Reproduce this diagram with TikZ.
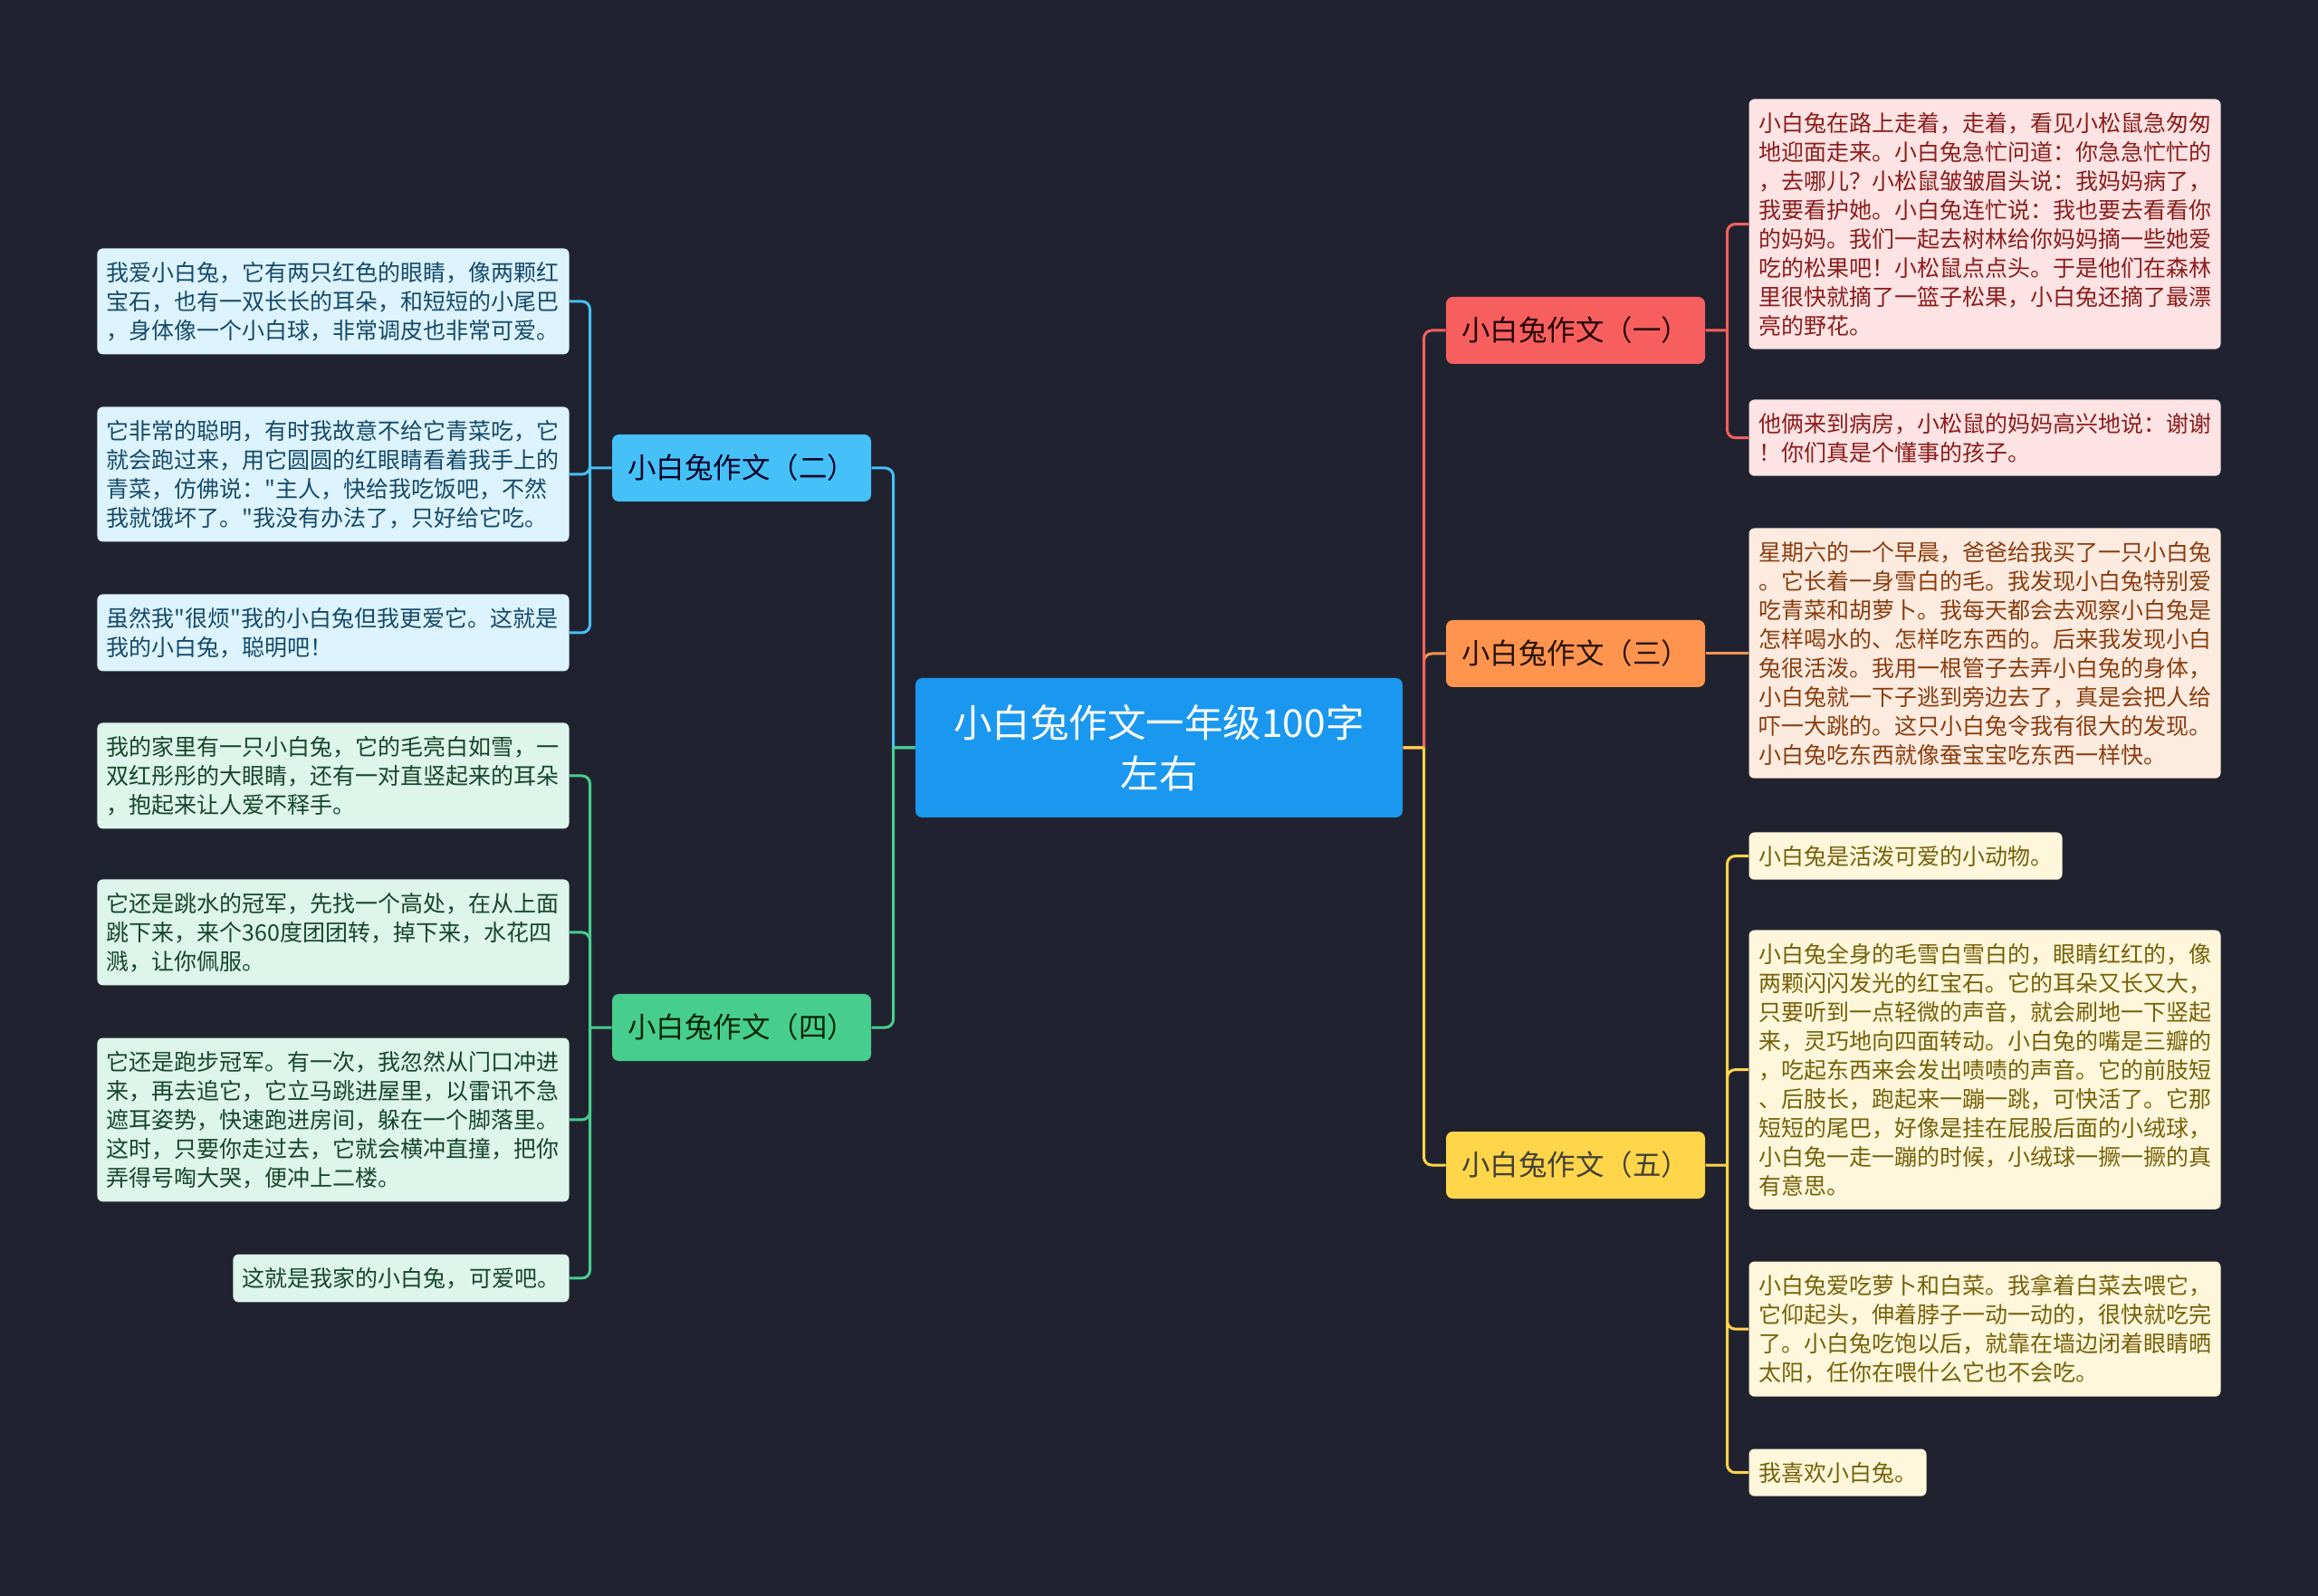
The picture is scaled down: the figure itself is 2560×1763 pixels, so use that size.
\documentclass[tikz,border=0pt]{standalone}
\usepackage{fontspec}
\setmainfont{Noto Sans CJK SC}[Ligatures=TeXOff]
\usepackage{tikz}
\definecolor{bgdark}{HTML}{20232F}
\definecolor{rootblue}{HTML}{1A98F0}
\definecolor{redfill}{HTML}{F75F5F}
\definecolor{orangefill}{HTML}{FF944E}
\definecolor{yellowfill}{HTML}{FFD54A}
\definecolor{bluefill}{HTML}{45C1F8}
\definecolor{greenfill}{HTML}{47CE8E}
\definecolor{redleaf}{HTML}{FDE3E3}
\definecolor{orangeleaf}{HTML}{FDEBE0}
\definecolor{yellowleaf}{HTML}{FFF7DB}
\definecolor{blueleaf}{HTML}{DDF3FD}
\definecolor{greenleaf}{HTML}{DDF5EA}
\definecolor{redtext}{HTML}{8B1E1E}
\definecolor{orangetext}{HTML}{8A3E10}
\definecolor{yellowtext}{HTML}{76610A}
\definecolor{bluetext}{HTML}{164A6A}
\definecolor{greentext}{HTML}{17462D}
\tikzset{
    rootbox/.style={
        rectangle, rounded corners=3pt, fill=rootblue, text=white,
        minimum width=215.2pt, minimum height=61.6pt, align=center,
        font=\fontsize{17pt}{22.4pt}\selectfont
    },
    branchbox/.style={
        rectangle, rounded corners=3pt, fill=#1,
        minimum width=114.4pt, minimum height=29.6pt,
        font=\fontsize{12.6pt}{14pt}\selectfont
    },
    % leaf text boxes
    leafbox/.style={
        rectangle, rounded corners=2.4pt, fill=#1,
        inner xsep=4.2pt, inner ysep=5.8pt, align=left,
        font=\fontsize{10pt}{12.8pt}\selectfont
    },
    widebox/.style={text width=200pt},
    link/.style={line width=1.2pt, draw=#1}
}
\begin{document}
\begin{tikzpicture}[x=0.4pt, y=-0.4pt]
	\fill[bgdark] (0,0) rectangle (2560,1763);
	\useasboundingbox (0,0) rectangle (2560,1763);

	\node[rootbox] (root) at (1280,826) {小白兔作文一年级100字\\左右};

	\node[branchbox=redfill, text=black!85!red] (b1) at (1740,365) {小白兔作文（一）};
	\node[branchbox=orangefill, text=black!85!orange] (b3) at (1740,722) {小白兔作文（三）};
	\node[branchbox=yellowfill, text=black!85!yellow] (b5) at (1740,1287) {小白兔作文（五）};
	\node[branchbox=bluefill, text=black!85!blue] (b2) at (819,517) {小白兔作文（二）};
	\node[branchbox=greenfill, text=black!85!green] (b4) at (819,1135) {小白兔作文（四）};

	\node[leafbox=redleaf, widebox, text=redtext, anchor=north west] (r1a) at (1931,109) {小白兔在路上走着，走着，看见小松鼠急匆匆\\地迎面走来。小白兔急忙问道：你急急忙忙的\\，去哪儿？小松鼠皱皱眉头说：我妈妈病了，\\我要看护她。小白兔连忙说：我也要去看看你\\的妈妈。我们一起去树林给你妈妈摘一些她爱\\吃的松果吧！小松鼠点点头。于是他们在森林\\里很快就摘了一篮子松果，小白兔还摘了最漂\\亮的野花。};
	\node[leafbox=redleaf, widebox, text=redtext, anchor=north west] (r1b) at (1931,441) {他俩来到病房，小松鼠的妈妈高兴地说：谢谢\\！你们真是个懂事的孩子。};

	\node[leafbox=orangeleaf, widebox, text=orangetext, anchor=north west] (r3a) at (1931,583) {星期六的一个早晨，爸爸给我买了一只小白兔\\。它长着一身雪白的毛。我发现小白兔特别爱\\吃青菜和胡萝卜。我每天都会去观察小白兔是\\怎样喝水的、怎样吃东西的。后来我发现小白\\兔很活泼。我用一根管子去弄小白兔的身体，\\小白兔就一下子逃到旁边去了，真是会把人给\\吓一大跳的。这只小白兔令我有很大的发现。\\小白兔吃东西就像蚕宝宝吃东西一样快。};

	\node[leafbox=yellowleaf, text=yellowtext, anchor=north west] (r5a) at (1931,919) {小白兔是活泼可爱的小动物。};
	\node[leafbox=yellowleaf, widebox, text=yellowtext, anchor=north west] (r5b) at (1931,1027) {小白兔全身的毛雪白雪白的，眼睛红红的，像\\两颗闪闪发光的红宝石。它的耳朵又长又大，\\只要听到一点轻微的声音，就会刷地一下竖起\\来，灵巧地向四面转动。小白兔的嘴是三瓣的\\，吃起东西来会发出啧啧的声音。它的前肢短\\、后肢长，跑起来一蹦一跳，可快活了。它那\\短短的尾巴，好像是挂在屁股后面的小绒球，\\小白兔一走一蹦的时候，小绒球一撅一撅的真\\有意思。};
	\node[leafbox=yellowleaf, widebox, text=yellowtext, anchor=north west] (r5c) at (1931,1393) {小白兔爱吃萝卜和白菜。我拿着白菜去喂它，\\它仰起头，伸着脖子一动一动的，很快就吃完\\了。小白兔吃饱以后，就靠在墙边闭着眼睛晒\\太阳，任你在喂什么它也不会吃。};
	\node[leafbox=yellowleaf, text=yellowtext, anchor=north west] (r5d) at (1931,1600) {我喜欢小白兔。};

	\node[leafbox=blueleaf, widebox, text=bluetext, anchor=north east] (l2a) at (629,274) {我爱小白兔，它有两只红色的眼睛，像两颗红\\宝石，也有一双长长的耳朵，和短短的小尾巴\\，身体像一个小白球，非常调皮也非常可爱。};
	\node[leafbox=blueleaf, widebox, text=bluetext, anchor=north east] (l2b) at (629,449) {它非常的聪明，有时我故意不给它青菜吃，它\\就会跑过来，用它圆圆的红眼睛看着我手上的\\青菜，仿佛说："主人，快给我吃饭吧，不然\\我就饿坏了。"我没有办法了，只好给它吃。};
	\node[leafbox=blueleaf, widebox, text=bluetext, anchor=north east] (l2c) at (629,656) {虽然我"很烦"我的小白兔但我更爱它。这就是\\我的小白兔，聪明吧！};

	\node[leafbox=greenleaf, widebox, text=greentext, anchor=north east] (l4a) at (629,798) {我的家里有一只小白兔，它的毛亮白如雪，一\\双红彤彤的大眼睛，还有一对直竖起来的耳朵\\，抱起来让人爱不释手。};
	\node[leafbox=greenleaf, widebox, text=greentext, anchor=north east] (l4b) at (629,971) {它还是跳水的冠军，先找一个高处，在从上面\\跳下来，来个360度团团转，掉下来，水花四\\溅，让你佩服。};
	\node[leafbox=greenleaf, widebox, text=greentext, anchor=north east] (l4c) at (629,1146) {它还是跑步冠军。有一次，我忽然从门口冲进\\来，再去追它，它立马跳进屋里，以雷讯不急\\遮耳姿势，快速跑进房间，躲在一个脚落里。\\这时，只要你走过去，它就会横冲直撞，把你\\弄得号啕大哭，便冲上二楼。};
	\node[leafbox=greenleaf, text=greentext, anchor=north east] (l4d) at (629,1385) {这就是我家的小白兔，可爱吧。};

	% root to branches
	\coordinate (rootR) at ([xshift=9.2pt]root.east);
	\coordinate (rootL) at ([xshift=-9.6pt]root.west);
	\draw[link=orangefill] (root.east) -- (rootR) [rounded corners=3.5pt] (rootR) |- (b3.west);
	\draw[link=redfill] (root.east) -- (rootR) [rounded corners=3.5pt] (rootR) |- (b1.west);
	\draw[link=yellowfill] (root.east) -- (rootR) [rounded corners=3.5pt] (rootR) |- (b5.west);
	\draw[link=bluefill] (root.west) -- (rootL) [rounded corners=3.5pt] (rootL) |- (b2.east);
	\draw[link=greenfill] (root.west) -- (rootL) [rounded corners=3.5pt] (rootL) |- (b4.east);

	% branches to leaves
	\coordinate (j1) at ([xshift=9.6pt]b1.east);
	\draw[link=redfill] (b1.east) -- (j1) [rounded corners=3.5pt] (j1) |- (r1a.west);
	\draw[link=redfill, rounded corners=3.5pt] (j1) |- (r1b.west);

	\coordinate (j3) at ([xshift=9.6pt]b3.east);
	\draw[link=orangefill] (b3.east) -- (j3) |- (r3a.west);

	\coordinate (j5) at ([xshift=9.6pt]b5.east);
	\draw[link=yellowfill] (b5.east) -- (j5) [rounded corners=3.5pt] (j5) |- (r5a.west);
	\draw[link=yellowfill, rounded corners=3.5pt] (j5) |- (r5b.west);
	\draw[link=yellowfill, rounded corners=3.5pt] (j5) |- (r5c.west);
	\draw[link=yellowfill, rounded corners=3.5pt] (j5) |- (r5d.west);

	\coordinate (j2) at ([xshift=-9.6pt]b2.west);
	\draw[link=bluefill] (b2.west) -- (j2) [rounded corners=3.5pt] (j2) |- (l2a.east);
	\draw[link=bluefill, rounded corners=3.5pt] (j2) |- (l2b.east);
	\draw[link=bluefill, rounded corners=3.5pt] (j2) |- (l2c.east);

	\coordinate (j4) at ([xshift=-9.6pt]b4.west);
	\draw[link=greenfill] (b4.west) -- (j4) [rounded corners=3.5pt] (j4) |- (l4a.east);
	\draw[link=greenfill, rounded corners=3.5pt] (j4) |- (l4b.east);
	\draw[link=greenfill, rounded corners=3.5pt] (j4) |- (l4c.east);
	\draw[link=greenfill, rounded corners=3.5pt] (j4) |- (l4d.east);
\end{tikzpicture}
\end{document}
